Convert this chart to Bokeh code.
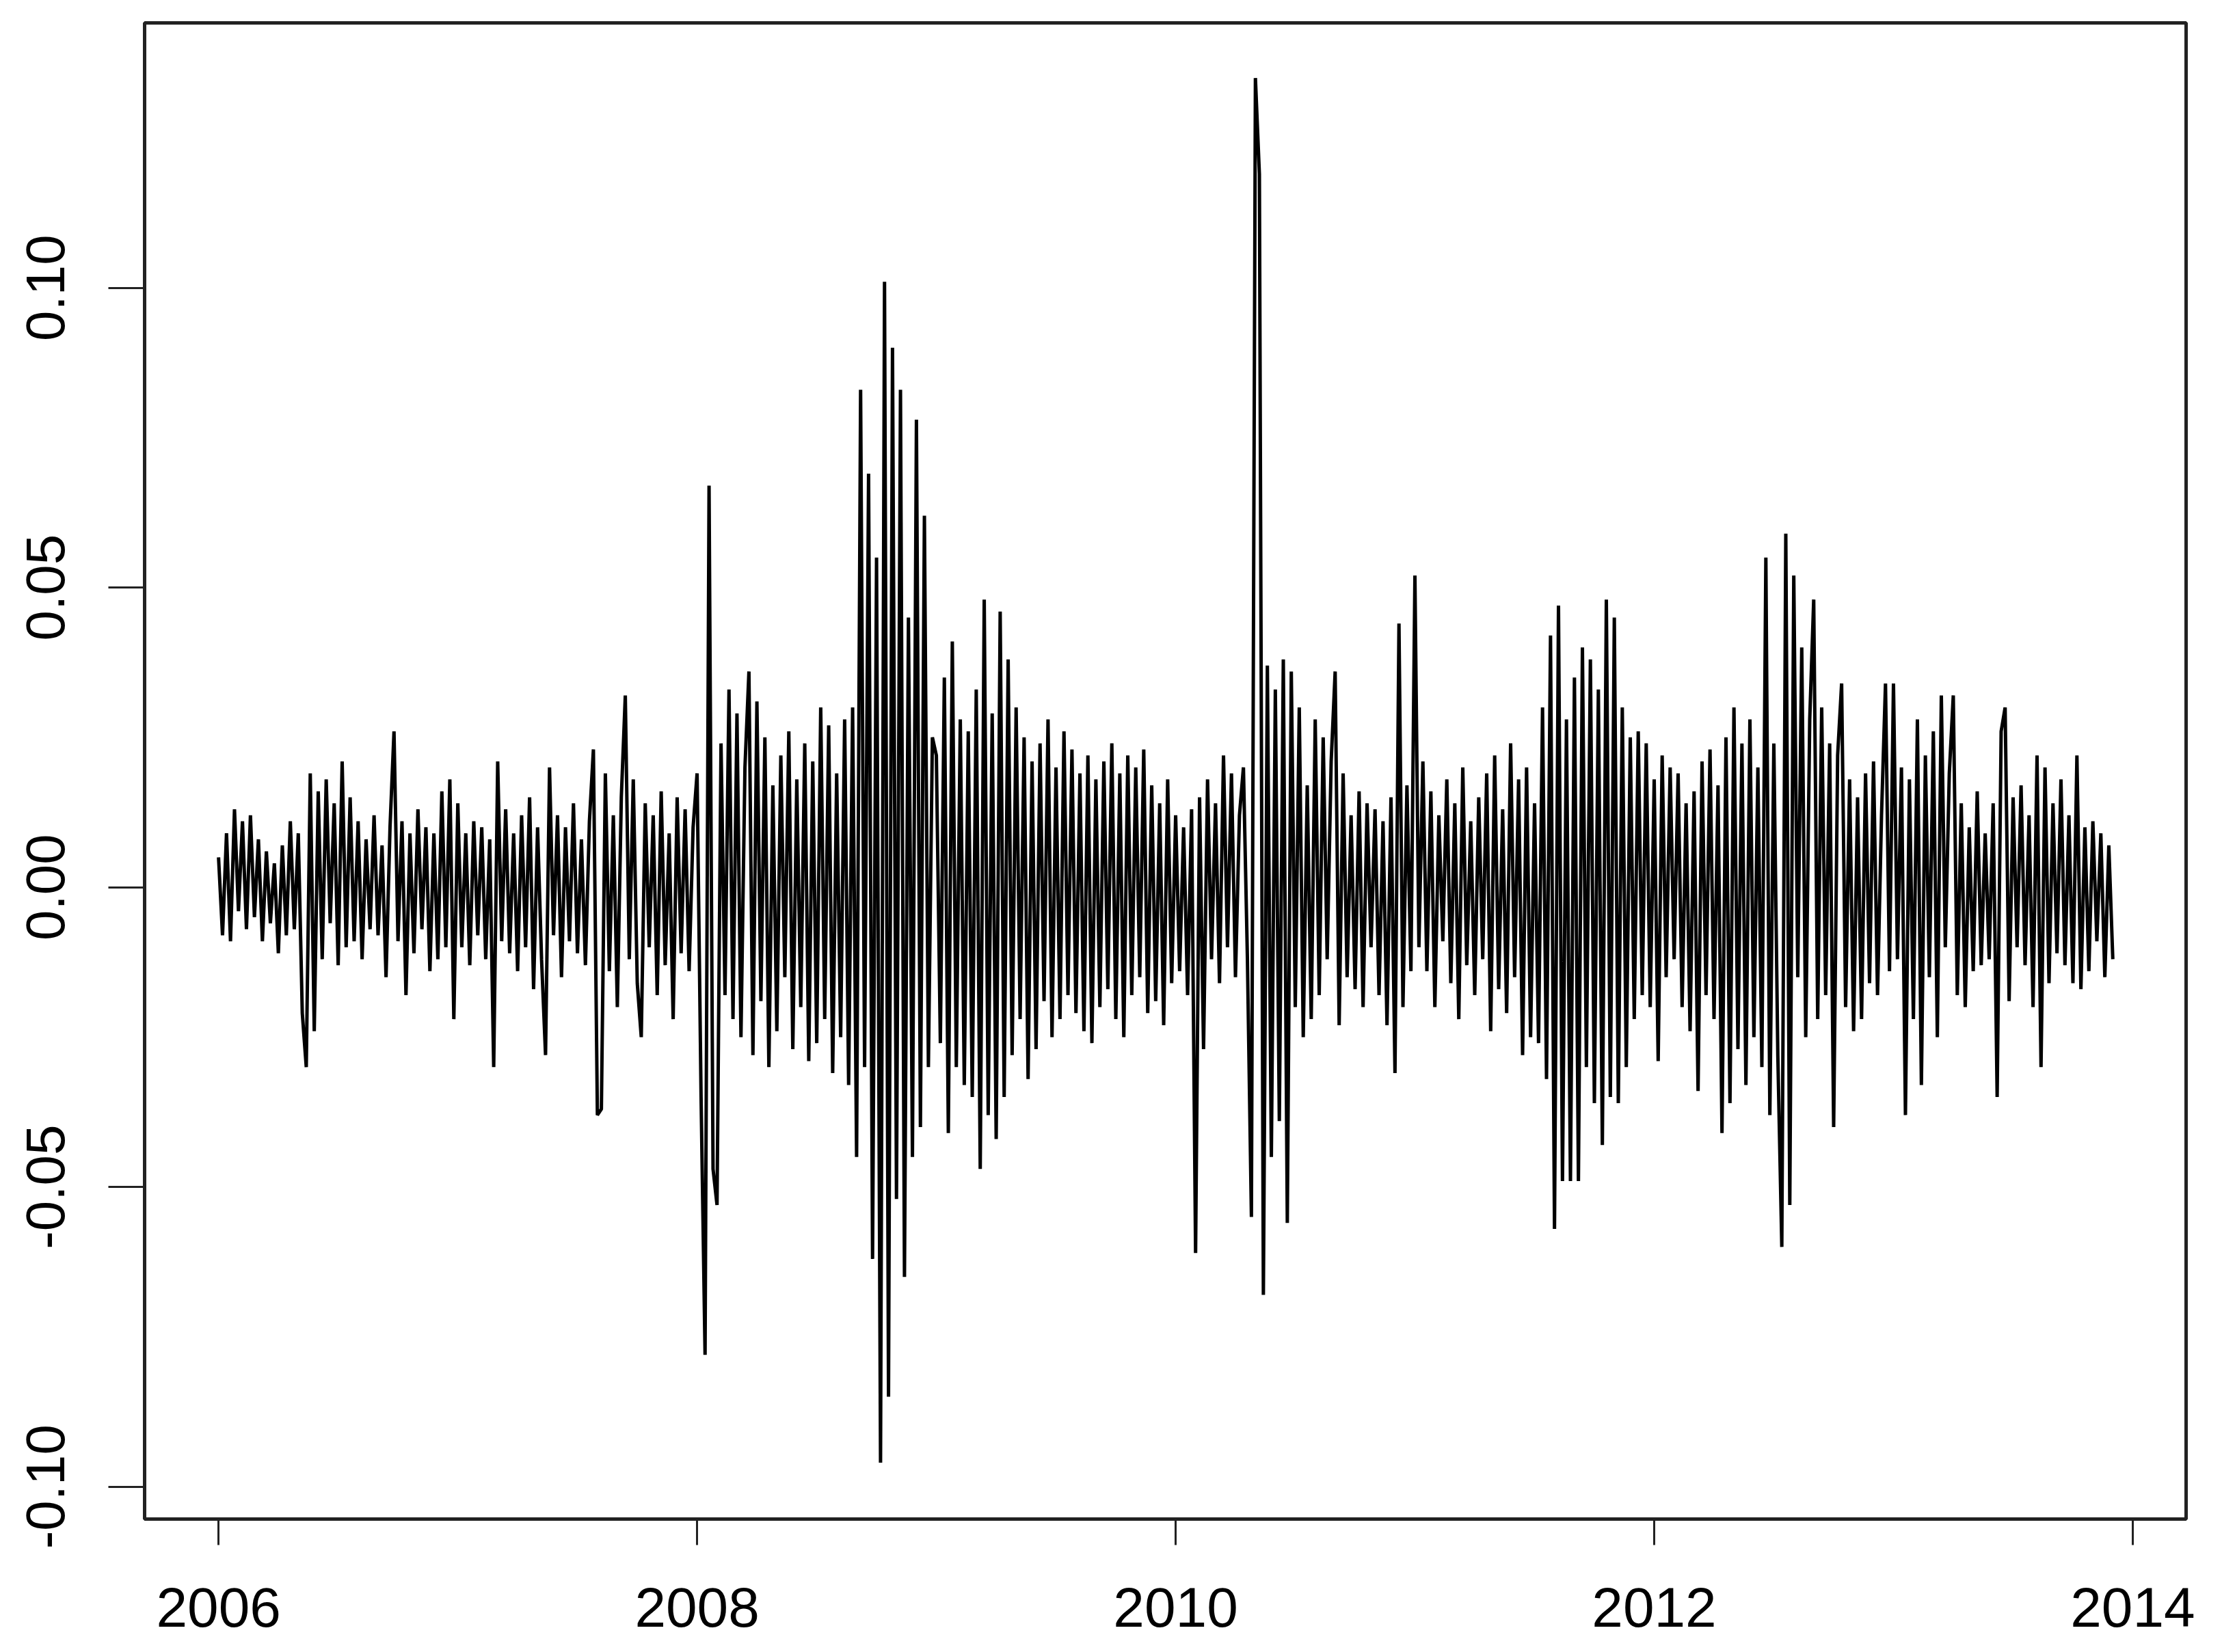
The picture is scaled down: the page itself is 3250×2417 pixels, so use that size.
import numpy as np
from bokeh.plotting import figure
from bokeh.models import Range1d, FixedTicker, PrintfTickFormatter
from bokeh.embed import file_html
from bokeh.resources import INLINE

# Daily-return series (values in thousandths), ~60 samples per year
years = [2006, 2007, 2008, 2009, 2010, 2011, 2012, 2013]
samples_per_year = 60

v2006 = [5, -8, 9, -9, 13, -4, 11, -7, 12, -5, 8, -9, 6, -6, 4, -11, 7, -8, 11, -7, 9, -21,
         -30, 19, -24, 16, -12, 18, -6, 14, -13, 21, -10, 15, -9, 11, -12, 8, -7, 12, -8, 7,
         -15, 10, 26, -9, 11, -18, 9, -11, 13, -7, 10, -14, 9, -12, 16, -10, 18, -22]
v2007 = [14, -10, 9, -13, 11, -8, 10, -12, 8, -30, 21, -9, 13, -11, 9, -14, 12, -10, 15, -17,
         10, -12, -28, 20, -8, 12, -15, 10, -9, 14, -11, 8, -13, 11, 23, -38, -37, 19, -14, 12,
         -20, 15, 32, -12, 18, -16, -25, 14, -10, 12, -18, 16, -13, 9, -22, 15, -11, 13, -14, 10]
v2008 = [19, -35, -78, 67, -47, -53, 24, -18, 33, -22, 29, -25, 20, 36, -28, 31, -19, 25, -30,
         17, -24, 22, -15, 26, -27, 18, -20, 24, -29, 21, -26, 30, -22, 27, -31, 19, -25, 28,
         -33, 30, -45, 83, -30, 69, -62, 55, -96, 101, -85, 90, -52, 83, -65, 45, -45, 78, -40,
         62, -30, 25]
v2009 = [22, -26, 35, -41, 41, -30, 28, -33, 26, -35, 33, -47, 48, -38, 29, -42, 46, -35, 38,
         -28, 30, -22, 25, -32, 21, -27, 24, -19, 28, -25, 20, -22, 26, -18, 23, -21, 19, -24,
         22, -26, 18, -20, 21, -17, 24, -22, 19, -25, 22, -18, 20, -15, 23, -21, 17, -19, 14,
         -23, 18, -16]
v2010 = [12, -14, 10, -18, 13, -61, 15, -27, 18, -12, 14, -16, 22, -10, 19, -15, 12, 20, -12,
         -55, 135, 119, -68, 37, -45, 33, -39, 38, -56, 36, -20, 30, -25, 17, -22, 28, -18, 25,
         -12, 21, 36, -23, 19, -15, 12, -17, 16, -20, 14, -10, 13, -18, 11, -23, 15, -31, 44,
         -20, 17, -14]
v2011 = [52, -10, 21, -14, 16, -20, 12, -9, 18, -16, 14, -22, 20, -13, 11, -18, 15, -12, 19,
         -24, 22, -17, 13, -21, 24, -15, 18, -28, 20, -25, 14, -26, 30, -32, 42, -57, 47, -49,
         28, -49, 35, -49, 40, -30, 38, -36, 33, -43, 48, -35, 45, -36, 30, -30, 25, -22, 26,
         -18, 24, -20]
v2012 = [18, -29, 22, -15, 20, -12, 19, -20, 14, -24, 16, -34, 21, -18, 23, -22, 17, -41, 25,
         -36, 30, -27, 24, -33, 28, -25, 20, -30, 55, -38, 24, -28, -60, 59, -53, 52, -15, 40,
         -25, 28, 48, -22, 30, -18, 24, -40, 22, 34, -20, 18, -24, 15, -22, 19, -16, 21, -18,
         12, 34, -14]
v2013 = [34, -12, 20, -38, 18, -22, 28, -33, 22, -15, 26, -25, 32, -10, 19, 32, -18, 14, -20,
         10, -14, 16, -13, 9, -12, 14, -35, 26, 30, -19, 15, -10, 17, -13, 12, -20, 22, -30, 20,
         -16, 14, -11, 18, -13, 12, -16, 22, -17, 10, -14, 11, -9, 9, -15, 7, -12]

y_ticks = [-0.10, -0.05, 0.00, 0.05, 0.10]
x_ticks = [2006, 2008, 2010, 2012, 2014]

series = [v2006, v2007, v2008, v2009, v2010, v2011, v2012, v2013]
xs, ys = [], []
for yr, vals in zip(years, series):
    for k, v in enumerate(vals):
        xs.append(yr + k / samples_per_year)
        ys.append(v / 1000.0)

W, H = 3234, 2401
p = figure(width=W, height=H, output_backend="svg", toolbar_location=None,
           x_range=Range1d(2005.691, 2014.223), y_range=Range1d(-0.1054, 0.1442),
           min_border_left=211, min_border_right=37, min_border_top=33, min_border_bottom=179)

p.line(xs, ys, line_color="black", line_width=5)

p.grid.visible = False
p.background_fill_color = "white"
p.border_fill_color = "white"
p.outline_line_color = "#222222"
p.outline_line_width = 5

for ax in (p.xaxis[0], p.yaxis[0]):
    ax.axis_line_color = None
    ax.major_tick_line_color = "#222222"
    ax.major_tick_line_width = 3
    ax.minor_tick_line_color = None
    ax.major_tick_in = 0
    ax.major_label_text_font = "Liberation Sans"
    ax.major_label_text_color = "black"

p.xaxis[0].ticker = FixedTicker(ticks=x_ticks)
p.xaxis[0].major_tick_out = 38
p.xaxis[0].major_label_text_font_size = "82px"
p.xaxis[0].major_label_standoff = 62

p.yaxis[0].ticker = FixedTicker(ticks=y_ticks)
p.yaxis[0].formatter = PrintfTickFormatter(format="%.2f")
p.yaxis[0].major_tick_out = 53
p.yaxis[0].major_label_text_font_size = "80px"
p.yaxis[0].major_label_orientation = "vertical"
p.yaxis[0].major_label_standoff = 64

open("out.html", "w").write(file_html(p, INLINE))
